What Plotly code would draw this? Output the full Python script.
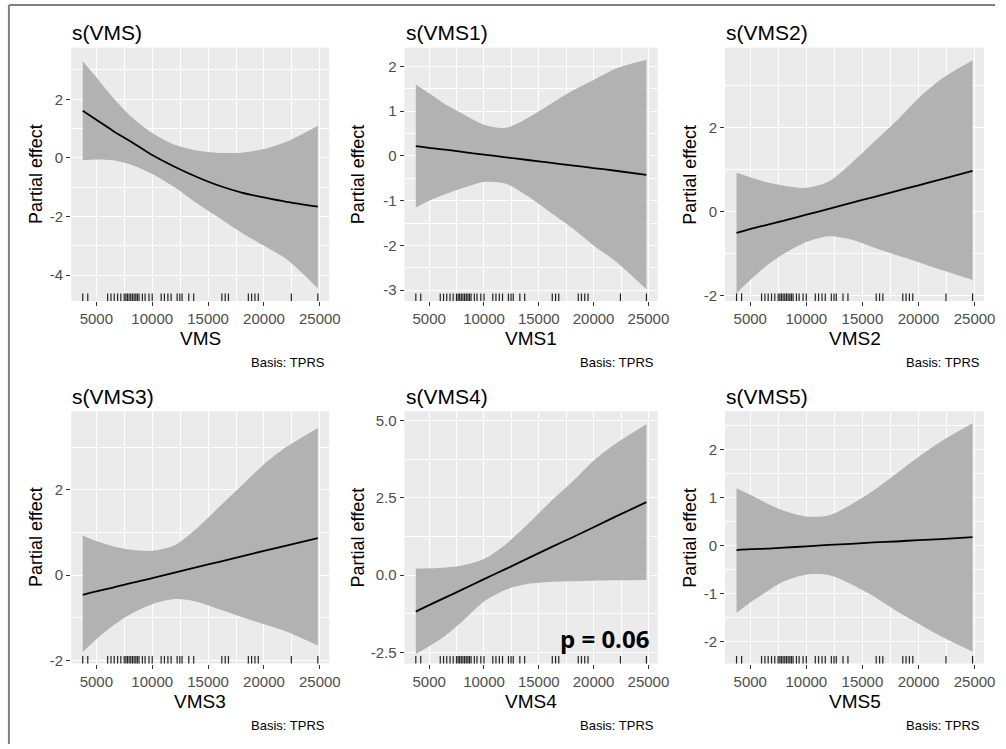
import plotly.graph_objects as go

# ---------------- data ----------------
grid_x = [3780, 5000, 6500, 8000, 10000, 12000, 14000, 16000, 18000, 20000, 22000, 24820]

rug_x = [3780, 4230, 6010, 6310, 6600, 6900, 7190, 7490, 7640, 7780, 7930, 8080, 8230,
         8380, 8530, 8670, 8820, 9120, 9360, 9710, 10000, 10800, 11090, 11400, 11690,
         12230, 12470, 12670, 13270, 13710, 16230, 16530, 16820, 18600, 18890, 19190,
         19490, 22450, 24820]

vms_fit = [1.61, 1.30, 0.92, 0.58, 0.10, -0.30, -0.65, -0.95, -1.18, -1.35, -1.50, -1.66]
vms_upper = [3.30, 2.75, 2.05, 1.45, 0.85, 0.45, 0.25, 0.17, 0.18, 0.30, 0.55, 1.10]
vms_lower = [-0.08, -0.05, -0.08, -0.22, -0.55, -1.00, -1.55, -2.05, -2.55, -3.00, -3.45, -4.45]

vms1_fit = [0.22, 0.18, 0.14, 0.09, 0.03, -0.03, -0.09, -0.15, -0.21, -0.27, -0.33, -0.42]
vms1_upper = [1.60, 1.40, 1.15, 0.95, 0.70, 0.63, 0.85, 1.15, 1.45, 1.70, 1.95, 2.15]
vms1_lower = [-1.15, -1.00, -0.85, -0.72, -0.58, -0.62, -0.90, -1.25, -1.60, -2.00, -2.35, -2.98]

vms2_fit = [-0.50, -0.41, -0.31, -0.21, -0.07, 0.07, 0.21, 0.35, 0.49, 0.63, 0.77, 0.97]
vms2_upper = [0.93, 0.82, 0.70, 0.62, 0.57, 0.72, 1.15, 1.65, 2.15, 2.70, 3.15, 3.60]
vms2_lower = [-1.93, -1.62, -1.27, -1.00, -0.72, -0.58, -0.66, -0.85, -1.03, -1.20, -1.38, -1.62]

vms3_fit = [-0.46, -0.38, -0.29, -0.19, -0.07, 0.06, 0.19, 0.31, 0.44, 0.57, 0.69, 0.87]
vms3_upper = [0.93, 0.80, 0.68, 0.60, 0.57, 0.70, 1.10, 1.60, 2.10, 2.60, 3.00, 3.45]
vms3_lower = [-1.80, -1.50, -1.18, -0.92, -0.68, -0.56, -0.62, -0.80, -0.98, -1.15, -1.32, -1.65]

vms4_fit = [-1.18, -0.97, -0.72, -0.47, -0.13, 0.20, 0.54, 0.88, 1.21, 1.55, 1.89, 2.36]
vms4_upper = [0.21, 0.22, 0.25, 0.31, 0.52, 1.00, 1.65, 2.35, 3.00, 3.70, 4.25, 4.88]
vms4_lower = [-2.55, -2.30, -1.95, -1.50, -0.85, -0.47, -0.28, -0.22, -0.20, -0.18, -0.17, -0.16]

vms5_fit = [-0.09, -0.07, -0.06, -0.04, -0.01, 0.02, 0.04, 0.07, 0.09, 0.12, 0.14, 0.18]
vms5_upper = [1.20, 1.06, 0.88, 0.73, 0.61, 0.63, 0.86, 1.15, 1.50, 1.85, 2.17, 2.55]
vms5_lower = [-1.40, -1.18, -0.95, -0.74, -0.60, -0.61, -0.80, -1.05, -1.35, -1.62, -1.88, -2.20]

titles = ["s(VMS)", "s(VMS1)", "s(VMS2)", "s(VMS3)", "s(VMS4)", "s(VMS5)"]
x_titles = ["VMS", "VMS1", "VMS2", "VMS3", "VMS4", "VMS5"]
y_title = "Partial effect"
caption = "Basis: TPRS"
p_label = "p = 0.06"

x_ticks = [5000, 10000, 15000, 20000, 25000]
y_tick_sets = [
    [-4, -2, 0, 2],
    [-3, -2, -1, 0, 1, 2],
    [-2, 0, 2],
    [-2, 0, 2],
    [-2.5, 0.0, 2.5, 5.0],
    [-2, -1, 0, 1, 2],
]
y_tick_text = [
    ["-4", "-2", "0", "2"],
    ["-3", "-2", "-1", "0", "1", "2"],
    ["-2", "0", "2"],
    ["-2", "0", "2"],
    ["-2.5", "0.0", "2.5", "5.0"],
    ["-2", "-1", "0", "1", "2"],
]
y_minor = [1, 0.5, 1, 1, 1.25, 0.5]
y_ranges = [[-4.88, 3.76], [-3.24, 2.42], [-2.12, 3.90], [-2.07, 3.84], [-2.86, 5.30], [-2.45, 2.80]]
x_range = [2750, 25850]

fits = [vms_fit, vms1_fit, vms2_fit, vms3_fit, vms4_fit, vms5_fit]
uppers = [vms_upper, vms1_upper, vms2_upper, vms3_upper, vms4_upper, vms5_upper]
lowers = [vms_lower, vms1_lower, vms2_lower, vms3_lower, vms4_lower, vms5_lower]

# ---------------- layout geometry (pixels) ----------------
W, H = 1006, 749
col_px = [(72, 333), (409, 665), (733, 995)]
row_px = [(48, 303), (414, 668)]
ytitle_offset = [35, 47, 35]

def px_x(p):
    return p / W

def px_y(p):
    return 1 - p / H

FONT = "Liberation Sans, Arial, sans-serif"
BAND = "rgb(178,178,178)"
PANEL = "#EBEBEB"

fig = go.Figure()
layout = dict(
    width=W, height=H,
    margin=dict(l=0, r=0, t=0, b=0),
    paper_bgcolor="white",
    plot_bgcolor=PANEL,
    showlegend=False,
    font=dict(family=FONT, color="#4D4D4D"),
)
annotations = []
shapes = []

for i in range(6):
    r, c = divmod(i, 3)
    k = "" if i == 0 else str(i + 1)
    xa, ya = "x" + k, "y" + k
    x0, x1 = col_px[c]
    y0, y1 = row_px[r]

    fig.add_trace(go.Scatter(x=grid_x, y=lowers[i], mode="lines", line=dict(width=0, shape="spline", smoothing=0.8),
                             xaxis=xa, yaxis=ya, hoverinfo="skip"))
    fig.add_trace(go.Scatter(x=grid_x, y=uppers[i], mode="lines", line=dict(width=0, shape="spline", smoothing=0.8),
                             fill="tonexty", fillcolor=BAND, xaxis=xa, yaxis=ya, hoverinfo="skip"))
    fig.add_trace(go.Scatter(x=grid_x, y=fits[i], mode="lines", line=dict(color="black", width=1.8, shape="spline", smoothing=0.8),
                             xaxis=xa, yaxis=ya))

    layout["xaxis" + k] = dict(
        domain=[px_x(x0), px_x(x1)], anchor=ya, range=x_range,
        tickvals=x_ticks, ticktext=[str(v) for v in x_ticks],
        showgrid=True, gridcolor="white", gridwidth=1.1, zeroline=False,
        ticks="outside", ticklen=4, tickcolor="#333333", tickwidth=1,
        tickfont=dict(size=15, color="#4D4D4D", family=FONT),
        minor=dict(dtick=2500, tick0=0, showgrid=True, gridcolor="white", gridwidth=0.5, ticks=""),
        showline=False, fixedrange=True,
    )
    layout["yaxis" + k] = dict(
        domain=[px_y(y1), px_y(y0)], anchor=xa, range=y_ranges[i],
        tickvals=y_tick_sets[i], ticktext=y_tick_text[i],
        showgrid=True, gridcolor="white", gridwidth=1.1, zeroline=False,
        ticks="outside", ticklen=4, tickcolor="#333333", tickwidth=1,
        tickfont=dict(size=15, color="#4D4D4D", family=FONT),
        minor=dict(dtick=y_minor[i], tick0=0, showgrid=True, gridcolor="white", gridwidth=0.5, ticks=""),
        showline=False, fixedrange=True,
    )

    # rug
    for rx in rug_x:
        shapes.append(dict(type="line", xref=xa, yref=ya + " domain", x0=rx, x1=rx, y0=0, y1=0.03,
                           line=dict(color="rgba(0,0,0,0.85)", width=1.2)))

    # panel title
    annotations.append(dict(text=titles[i], xref="paper", yref="paper", x=px_x(x0 - 1), y=px_y(y0 - 15),
                            xanchor="left", yanchor="middle", showarrow=False,
                            font=dict(size=21, color="black", family=FONT)))
    # x title
    annotations.append(dict(text=x_titles[i], xref="paper", yref="paper", x=px_x((x0 + x1) / 2), y=px_y(y1 + 38),
                            xanchor="center", yanchor="middle", showarrow=False,
                            font=dict(size=19, color="black", family=FONT)))
    # y title
    annotations.append(dict(text=y_title, xref="paper", yref="paper", x=px_x(x0 - ytitle_offset[c]), y=px_y((y0 + y1) / 2),
                            xanchor="center", yanchor="middle", textangle=-90, showarrow=False,
                            font=dict(size=18, color="black", family=FONT)))
    # caption
    annotations.append(dict(text=caption, xref="paper", yref="paper", x=px_x(x1 - 2), y=px_y(y1 + 62),
                            xanchor="right", yanchor="middle", showarrow=False,
                            font=dict(size=13, color="black", family=FONT)))

# p-value label on VMS4 panel
annotations.append(dict(text="<b>" + p_label + "</b>", xref="x5 domain", yref="y5 domain", x=0.975, y=0.10,
                        xanchor="right", yanchor="middle", showarrow=False,
                        font=dict(size=24, color="black", family="Open Sans, Liberation Sans, sans-serif")))

# outer frame (left & top edges visible in the reference)
shapes.append(dict(type="line", xref="paper", yref="paper", x0=px_x(9), x1=px_x(9), y0=0, y1=px_y(5),
                   line=dict(color="#7F7F7F", width=2)))
shapes.append(dict(type="line", xref="paper", yref="paper", x0=px_x(9), x1=1, y0=px_y(5), y1=px_y(5),
                   line=dict(color="#7F7F7F", width=2)))

layout["annotations"] = annotations
layout["shapes"] = shapes
fig.update_layout(**layout)

fig.write_html("out.html", config={"displayModeBar": False},
               post_script="document.body.style.margin='0';document.body.style.overflow='hidden';")
